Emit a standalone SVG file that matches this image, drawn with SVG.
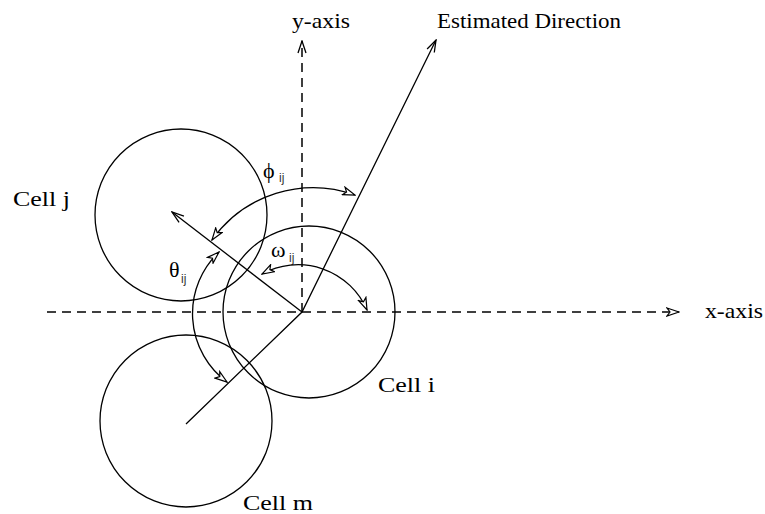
<svg xmlns="http://www.w3.org/2000/svg" width="765" height="514" viewBox="0 0 765 514">
<style>
.ln{fill:none;stroke:#000;stroke-width:1.3}
.ds{fill:none;stroke:#000;stroke-width:1.5;stroke-dasharray:9,6}
.lbl{font-family:"Liberation Serif","Times New Roman",serif;font-size:21px;fill:#000}
.gk{font-family:"Liberation Serif","Times New Roman",serif;font-size:22px;fill:#000}
.sub{font-family:"Liberation Sans",Arial,sans-serif;font-size:12px;fill:#333}
</style>
<defs>
<marker id="ah" viewBox="0 0 14 10" refX="13" refY="5" markerWidth="14" markerHeight="10" markerUnits="userSpaceOnUse" orient="auto-start-reverse">
<path d="M1,1 L13,5 L1,9 L4,5 Z" fill="#fff" stroke="#000" stroke-width="1.2"/>
</marker>
<marker id="av" viewBox="0 0 14 10" refX="13" refY="5" markerWidth="14" markerHeight="10" markerUnits="userSpaceOnUse" orient="auto">
<path d="M1,1 L13,5 L1,9" fill="none" stroke="#000" stroke-width="1.3"/>
</marker>
</defs>
<g id="cell-j"><circle class="ln" cx="181" cy="215" r="86"/><text class="lbl" x="13" y="206" textLength="57" lengthAdjust="spacingAndGlyphs">Cell j</text></g>
<g id="cell-i"><circle class="ln" cx="309" cy="312" r="86"/><text class="lbl" x="378" y="392" textLength="57" lengthAdjust="spacingAndGlyphs">Cell i</text></g>
<g id="cell-m"><circle class="ln" cx="186" cy="421" r="86"/><text class="lbl" x="243" y="510" textLength="70" lengthAdjust="spacingAndGlyphs">Cell m</text></g>
<g id="x-axis"><text class="lbl" x="705" y="318" textLength="58" lengthAdjust="spacingAndGlyphs">x-axis</text></g>
<g id="y-axis"><text class="lbl" x="292" y="28" textLength="58" lengthAdjust="spacingAndGlyphs">y-axis</text></g>
<g id="direction"><text class="lbl" x="437" y="28" textLength="184" lengthAdjust="spacingAndGlyphs">Estimated Direction</text></g>
<g id="angles">
<text class="gk" x="263" y="178">ϕ</text><text class="sub" x="279" y="182">ij</text>
<text class="gk" x="271" y="257">ω</text><text class="sub" x="289" y="262">ij</text>
<text class="gk" x="169" y="277">θ</text><text class="sub" x="181" y="283">ij</text>
</g>
<g id="connectors">
<line class="ds" x1="47" y1="312" x2="679" y2="312" marker-end="url(#ah)"/>
<line class="ds" x1="302" y1="312" x2="302" y2="41" marker-end="url(#av)"/>
<polyline class="ln" points="186,424 302,312 436,40" marker-end="url(#av)"/>
<line class="ln" x1="302" y1="312" x2="172" y2="212" marker-end="url(#av)"/>
<path class="ln" d="M212,240 A124,124 0 0 1 355,195" marker-start="url(#ah)" marker-end="url(#ah)"/>
<path class="ln" d="M262,274 A75,75 0 0 1 367,310" marker-start="url(#ah)" marker-end="url(#ah)"/>
<path class="ln" d="M219,252 A85,85 0 0 0 227,382" marker-start="url(#ah)" marker-end="url(#ah)"/>
</g>
</svg>
